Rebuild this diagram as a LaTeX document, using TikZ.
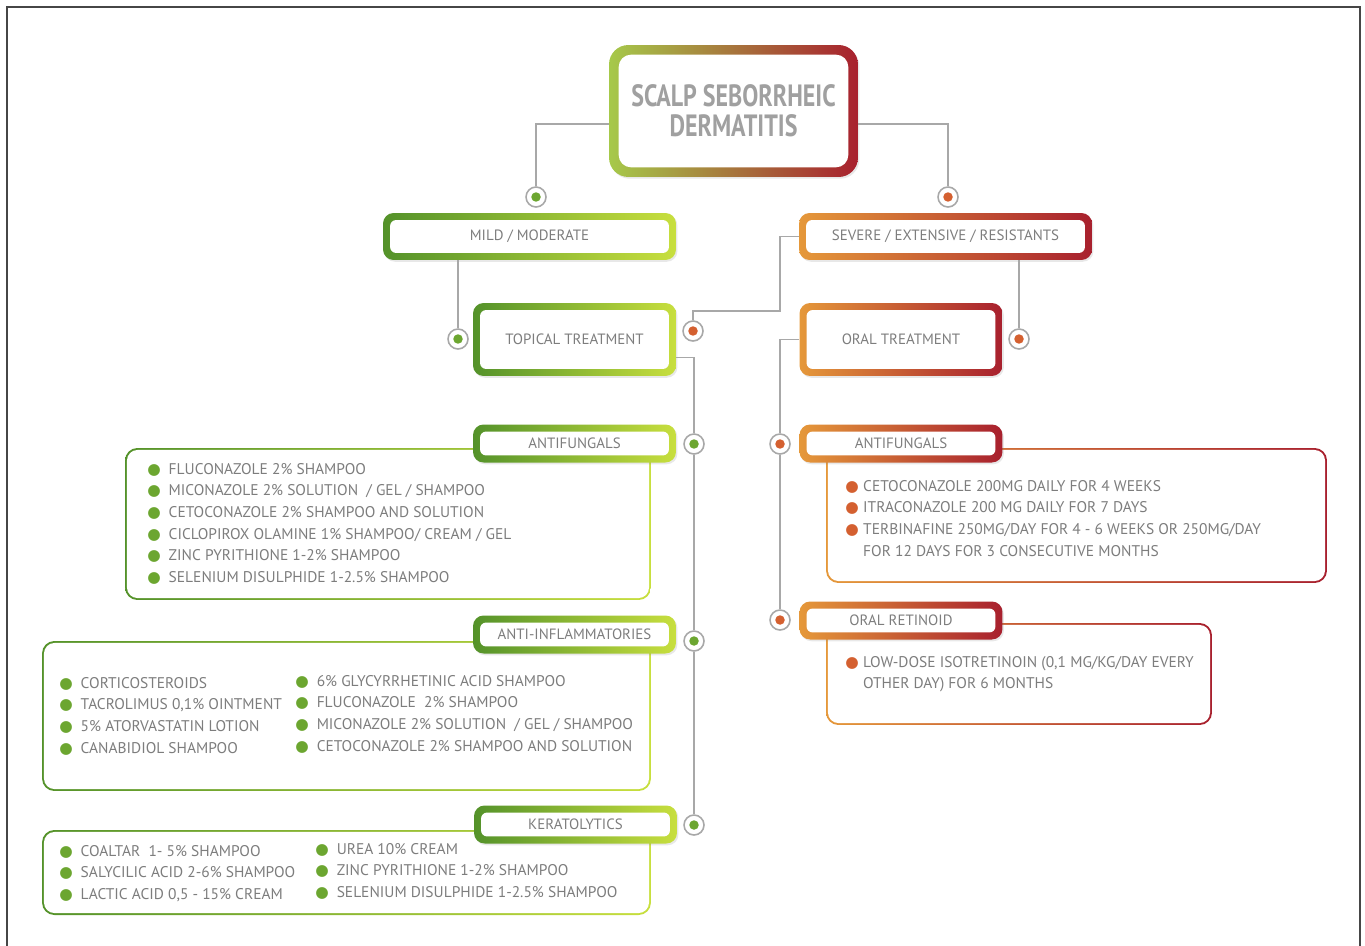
\documentclass[tikz,border=0pt]{standalone}
\usepackage{fontspec}
\setmainfont{PT Sans}
\newfontfamily\headfont[FakeStretch=0.78]{PT Sans}
\newfontfamily\dotfont{DejaVu Sans}
\usetikzlibrary{shadows}
\definecolor{leafdark}{RGB}{84,146,42}
\definecolor{leaflight}{RGB}{200,223,62}
\definecolor{leafmid}{RGB}{108,166,48}
\definecolor{emberorange}{RGB}{229,152,58}
\definecolor{emberred}{RGB}{168,32,46}
\definecolor{embermid}{RGB}{212,96,48}
\definecolor{titlegreen}{RGB}{166,201,74}
\definecolor{wiregray}{RGB}{168,168,168}
\definecolor{textgray}{RGB}{125,125,125}
\definecolor{headgray}{RGB}{160,160,160}
\definecolor{framegray}{RGB}{70,70,70}

\newcommand{\gdot}{\textcolor{leafmid}{\dotfont\char"25CF}\hspace{4.5pt}}
\newcommand{\edot}{\textcolor{embermid}{\dotfont\char"25CF}\hspace{2.5pt}}
\newcommand{\skipdot}{\phantom{\dotfont\char"25CF}\hspace{2.5pt}}

\begin{document}
\begin{tikzpicture}[
    x=0.02cm, y=-0.02cm,
    wire/.style={draw=wiregray,line width=0.8pt},
    inset/.style 2 args={path picture={\fill[white,rounded corners=#2]
      ([shift={(#1,#1)}]path picture bounding box.south west) rectangle
      ([shift={(-#1,-#1)}]path picture bounding box.north east);}},
    soft/.style={drop shadow={opacity=0.18,shadow xshift=0.8pt,shadow yshift=-1pt}},
    greenbox/.style={rounded corners=6pt,left color=leafdark,right color=leaflight,
      inset={4pt}{3.5pt},soft,inner sep=0pt,text=textgray,font=\fontsize{8.5}{10}\selectfont},
    emberbox/.style={rounded corners=6pt,left color=emberorange,right color=emberred,
      inset={4pt}{3.5pt},soft,inner sep=0pt,text=textgray,font=\fontsize{8.5}{10}\selectfont},
    titlebox/.style={rounded corners=11pt,left color=titlegreen,right color=emberred,
      inset={5.5pt}{7pt},soft,minimum width=4.98cm,minimum height=2.64cm,align=center,
      text=headgray,font=\headfont\bfseries\fontsize{17.5}{17}\selectfont},
    wide/.style={minimum width=5.86cm,minimum height=0.94cm},
    mainbox/.style={minimum width=4.06cm,minimum height=1.46cm},
    tag/.style={minimum width=4.06cm,minimum height=0.76cm},
    greenlist/.style={rounded corners=7pt,left color=leafdark,right color=leaflight,inset={1.1pt}{6pt}},
    emberlist/.style={rounded corners=7pt,left color=emberorange,right color=emberred,inset={1.1pt}{6pt}},
    items/.style={anchor=north west,inner sep=0pt,align=left,text=textgray,
      font=\fontsize{8.8}{12.3}\selectfont},
    hub/.style={circle,draw=wiregray,fill=white,line width=0.9pt,minimum size=0.4cm,inner sep=0pt,
      path picture={\fill[#1] (path picture bounding box.center) circle (2.7pt);}}
  ]
    \useasboundingbox (0,0) rectangle (1365,946);
    \draw[framegray,line width=1.3pt] (7,946) -- (7,7) -- (1360,7) -- (1360,946);

    \node[titlebox] (title) at (733.5,111) {SCALP SEBORRHEIC\\DERMATITIS};
    \node[hub=leafmid] (hmild) at (536,197) {};
    \node[hub=embermid] (hsev) at (948,197) {};
    \node[greenbox,wide] (mild) at (529.5,236.5) {MILD / MODERATE};
    \node[emberbox,wide] (severe) at (945.5,236.5) {SEVERE / EXTENSIVE / RESISTANTS};

    \node[hub=leafmid] (htop) at (458,339) {};
    \node[greenbox,mainbox] (topical) at (574.5,339.5) {TOPICAL TREATMENT};
    \node[hub=embermid] (hsevtop) at (693,331) {};
    \node[emberbox,mainbox] (oral) at (901,339.5) {ORAL TREATMENT};
    \node[hub=embermid] (horal) at (1019,339) {};

    % topical branch
    \node[greenlist,minimum width=10.52cm,minimum height=3.04cm] (afgbox) at (388,524) {};
    \node[greenbox,tag] (afg) at (574.5,443.5) {ANTIFUNGALS};
    \node[hub=leafmid] (hafg) at (694,444) {};
    \node[items] (afglist) at (147,463) {\gdot FLUCONAZOLE 2\% SHAMPOO\\
      \gdot MICONAZOLE 2\% SOLUTION\ \ / GEL / SHAMPOO\\
      \gdot CETOCONAZOLE 2\% SHAMPOO AND SOLUTION\\
      \gdot CICLOPIROX OLAMINE 1\% SHAMPOO/ CREAM / GEL\\
      \gdot ZINC PYRITHIONE 1-2\% SHAMPOO\\
      \gdot SELENIUM DISULPHIDE 1-2.5\% SHAMPOO};

    \node[greenlist,minimum width=12.18cm,minimum height=3.0cm] (aibox) at (346.5,716) {};
    \node[greenbox,tag] (ai) at (574.5,634.5) {ANTI-INFLAMMATORIES};
    \node[hub=leafmid] (hai) at (694,641) {};
    \node[items] (ailist) at (59,677) {\gdot CORTICOSTEROIDS\\
      \gdot TACROLIMUS 0,1\% OINTMENT\\
      \gdot 5\% ATORVASTATIN LOTION\\
      \gdot CANABIDIOL SHAMPOO};
    \node[items] (ailist2) at (295,675) {\gdot 6\% GLYCYRRHETINIC ACID SHAMPOO\\
      \gdot FLUCONAZOLE\ \ 2\% SHAMPOO\\
      \gdot MICONAZOLE 2\% SOLUTION\ \ / GEL / SHAMPOO\\
      \gdot CETOCONAZOLE 2\% SHAMPOO AND SOLUTION};

    \node[greenlist,minimum width=12.18cm,minimum height=1.70cm] (kebox) at (346.5,872.5) {};
    \node[greenbox,tag] (ke) at (575.5,824.5) {KERATOLYTICS};
    \node[hub=leafmid] (hke) at (694,825) {};
    \node[items] (kelist) at (59,845) {\gdot COALTAR\ \ 1- 5\% SHAMPOO\\
      \gdot SALYCILIC ACID 2-6\% SHAMPOO\\
      \gdot LACTIC ACID 0,5 - 15\% CREAM};
    \node[items] (kelist2) at (315,843) {\gdot UREA 10\% CREAM\\
      \gdot ZINC PYRITHIONE 1-2\% SHAMPOO\\
      \gdot SELENIUM DISULPHIDE 1-2.5\% SHAMPOO};

    % oral branch
    \node[emberlist,minimum width=10.02cm,minimum height=2.70cm] (afebox) at (1076.5,515.5) {};
    \node[emberbox,tag] (afe) at (901,443.5) {ANTIFUNGALS};
    \node[hub=embermid] (hafe) at (780,444) {};
    \node[items] (afelist) at (845,480) {\edot CETOCONAZOLE 200MG DAILY FOR 4 WEEKS\\
      \edot ITRACONAZOLE 200 MG DAILY FOR 7 DAYS\\
      \edot TERBINAFINE 250MG/DAY FOR 4 - 6 WEEKS OR 250MG/DAY\\
      \skipdot FOR 12 DAYS FOR 3 CONSECUTIVE MONTHS};

    \node[emberlist,minimum width=7.72cm,minimum height=2.04cm] (retbox) at (1019,674) {};
    \node[emberbox,tag] (ret) at (901,620.5) {ORAL RETINOID};
    \node[hub=embermid] (hret) at (780,620) {};
    \node[items] (retlist) at (845,656) {\edot LOW-DOSE ISOTRETINOIN (0,1 MG/KG/DAY EVERY\\
      \skipdot OTHER DAY) FOR 6 MONTHS};

    \coordinate (elbow) at (780,311);
    \draw[wire] (title.west) ++(0,13) -| (hmild);
    \draw[wire] (title.east) ++(0,13) -| (hsev);
    \draw[wire] (mild.south -| htop) -- (htop);
    \draw[wire] (severe.south -| horal) -- (horal);
    \draw[wire] (severe.west) -| (elbow) -| (hsevtop);
    \draw[wire] (topical.east) ++(0,18) -| (hafg);
    \draw[wire] (hafg) -- (hai);
    \draw[wire] (hai) -- (hke);
    \draw[wire] (oral.west) -| (hafe);
    \draw[wire] (hafe) -- (hret);
\end{tikzpicture}
\end{document}
